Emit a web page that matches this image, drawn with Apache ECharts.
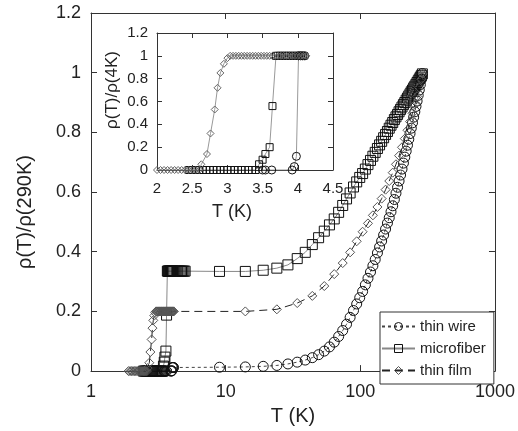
<!DOCTYPE html>
<html>
<head>
<meta charset="utf-8">
<script src="https://cdn.jsdelivr.net/npm/echarts@6/dist/echarts.min.js"></script>
<style>
  html, body { margin: 0; padding: 0; background: #fff; }
  #chart { width: 518px; height: 431px; }
</style>
</head>
<body>
<div id="chart"></div>
<script>
// low-T transition, normalised to rho(4K) (inset)
const wireInset = [
  [3.5, 0], [3.54, 0], [3.63, 0], [3.92, 0], [3.95, 0.03], [3.98, 0.12],
  [4.01, 1], [4.04, 1], [4.07, 1], [4.1, 1]
]
const fiberInset = [
  [2.45, 0], [2.5, 0], [2.55, 0], [2.6, 0], [2.65, 0], [2.7, 0], [2.75, 0], [2.8, 0],
  [2.85, 0], [2.9, 0], [2.95, 0], [3.0, 0], [3.05, 0], [3.1, 0], [3.15, 0], [3.2, 0],
  [3.25, 0], [3.3, 0], [3.35, 0], [3.4, 0],
  [3.45, 0.05], [3.5, 0.09], [3.54, 0.14], [3.6, 0.2], [3.64, 0.56],
  [3.69, 1], [3.72, 1], [3.75, 1], [3.78, 1], [3.81, 1], [3.84, 1], [3.87, 1],
  [3.9, 1], [3.93, 1], [3.96, 1], [3.99, 1], [4.02, 1], [4.05, 1], [4.08, 1]
]
const filmInset = [
  [1.9, 0], [1.95, 0], [2.0, 0], [2.05, 0], [2.1, 0], [2.15, 0], [2.2, 0], [2.25, 0],
  [2.3, 0], [2.35, 0], [2.4, 0], [2.45, 0], [2.5, 0], [2.55, 0], [2.6, 0],
  [2.63, 0.05], [2.71, 0.14], [2.76, 0.32], [2.82, 0.53], [2.86, 0.72], [2.9, 0.85],
  [2.95, 0.93], [3.0, 0.98],
  [3.04, 1], [3.08, 1], [3.12, 1], [3.16, 1], [3.2, 1], [3.24, 1], [3.28, 1], [3.32, 1],
  [3.36, 1], [3.4, 1], [3.44, 1], [3.48, 1], [3.52, 1], [3.56, 1], [3.6, 1], [3.64, 1],
  [3.68, 1], [3.72, 1], [3.76, 1], [3.8, 1], [3.84, 1], [3.88, 1], [3.92, 1], [3.96, 1],
  [4.0, 1], [4.04, 1], [4.08, 1], [4.12, 1]
]

// rho(4K)/rho(290K) of each sample
const wireResidual = 0.012
const fiberResidual = 0.335
const filmResidual = 0.2

// main plot, normalised to rho(290K)
const fiberExtra = [
  [4.2, 0.335], [4.3, 0.335], [4.4, 0.335], [4.5, 0.335], [4.6, 0.335],
  [4.7, 0.335], [4.8, 0.335], [4.9, 0.335], [5.0, 0.335]
]
const wireHigh = [
  [9, 0.013], [14, 0.014], [19, 0.016], [24, 0.019], [29, 0.024], [34, 0.030],
  [39, 0.037], [44, 0.045], [49, 0.055], [54, 0.067], [59, 0.081], [64, 0.097],
  [69, 0.116], [74, 0.136], [79, 0.157], [84, 0.180], [89, 0.203], [94, 0.225],
  [99, 0.246], [104, 0.267], [109, 0.289], [114, 0.311], [119, 0.332], [124, 0.353],
  [129, 0.374], [134, 0.396], [139, 0.416], [144, 0.436], [149, 0.456], [154, 0.476],
  [159, 0.496], [164, 0.514], [169, 0.534], [174, 0.554], [179, 0.575], [184, 0.596],
  [189, 0.616], [194, 0.637], [199, 0.657], [204, 0.677], [209, 0.697], [214, 0.717],
  [219, 0.737], [224, 0.757], [229, 0.777], [234, 0.796], [239, 0.814], [244, 0.832],
  [249, 0.851], [254, 0.869], [259, 0.887], [264, 0.905], [269, 0.924], [274, 0.942],
  [279, 0.960], [284, 0.978], [289, 0.997]
]
const fiberHigh = [
  [9, 0.334], [14, 0.334], [19, 0.338], [24, 0.345], [29, 0.356], [34, 0.377],
  [39, 0.398], [44, 0.424], [49, 0.447], [54, 0.469], [59, 0.490], [64, 0.510],
  [69, 0.532], [74, 0.555], [79, 0.577], [84, 0.597], [89, 0.617], [94, 0.634],
  [99, 0.649], [104, 0.662], [109, 0.677], [114, 0.692], [119, 0.706], [124, 0.720],
  [129, 0.733], [134, 0.746], [139, 0.758], [144, 0.770], [149, 0.782], [154, 0.793],
  [159, 0.803], [164, 0.814], [169, 0.824], [174, 0.833], [179, 0.843], [184, 0.852],
  [189, 0.860], [194, 0.869], [199, 0.877], [204, 0.885], [209, 0.893], [214, 0.900],
  [219, 0.908], [224, 0.915], [229, 0.922], [234, 0.929], [239, 0.936], [244, 0.942],
  [249, 0.949], [254, 0.955], [259, 0.961], [264, 0.967], [269, 0.973], [274, 0.979],
  [279, 0.985], [284, 0.990], [289, 0.996]
]
const filmHigh = [
  [14, 0.200], [24, 0.207], [34, 0.228], [44, 0.252], [54, 0.285], [64, 0.325],
  [74, 0.362], [84, 0.398], [94, 0.435], [104, 0.467], [114, 0.495], [124, 0.522],
  [134, 0.550], [144, 0.578], [154, 0.608], [164, 0.637], [174, 0.665], [184, 0.693],
  [194, 0.722], [204, 0.750], [214, 0.779], [224, 0.807], [234, 0.836], [244, 0.864],
  [254, 0.893], [264, 0.921], [274, 0.950], [284, 0.978], [290, 0.996]
]

const names = ['thin wire', 'microfiber', 'thin film']
const mainXTicks = [1, 1000]
const mainYTicks = [0, 1.2, 0.2]
const insetXTicks = [2, 4.5, 0.5]
const insetYTicks = [0, 1.2, 0.2]

const FONT = 'Liberation Sans, Arial, sans-serif'
const AXIS = '#333'
const TEXT = '#222'

const scale = (pts, r) => pts.map(([t, v]) => [t, +(v * r).toFixed(4)])

const wireMain = scale(wireInset, wireResidual).concat(wireHigh)
const fiberMain = scale(fiberInset, fiberResidual).concat(fiberExtra, fiberHigh)
const filmMain = scale(filmInset, filmResidual).concat(filmHigh)

function axisBase(grid, fontSize, tickLen) {
  return {
    gridIndex: grid,
    axisLine: { show: true, onZero: false, lineStyle: { color: AXIS, width: 1 } },
    axisTick: { show: true, inside: true, length: tickLen, lineStyle: { color: AXIS } },
    axisLabel: { fontSize, color: TEXT, fontFamily: FONT },
    splitLine: { show: false },
    minorTick: { show: false }
  }
}

function mirror(axis, position) {
  return Object.assign({}, axis, {
    position,
    name: '',
    axisLabel: { show: false }
  })
}

const mainX = Object.assign(axisBase(0, 18, 6), {
  type: 'log', logBase: 10, min: mainXTicks[0], max: mainXTicks[1], position: 'bottom',
  name: 'T (K)', nameLocation: 'middle', nameGap: 21,
  nameTextStyle: { fontSize: 20, color: TEXT, fontFamily: FONT }
})
mainX.axisLabel.margin = 12
mainX.axisLabel.formatter = v => String(Math.round(v))

const mainY = Object.assign(axisBase(0, 18, 6), {
  type: 'value', min: mainYTicks[0], max: mainYTicks[1], interval: mainYTicks[2], position: 'left',
  name: 'ρ(T)/ρ(290K)', nameLocation: 'middle', nameGap: 56, nameRotate: 90,
  nameTextStyle: { fontSize: 20, color: TEXT, fontFamily: FONT, padding: [0, 40, 0, 0] }
})
mainY.axisLabel.margin = 10

const insetX = Object.assign(axisBase(1, 15, 5), {
  type: 'value', min: insetXTicks[0], max: insetXTicks[1], interval: insetXTicks[2], position: 'bottom',
  name: 'T (K)', nameLocation: 'middle', nameGap: 33,
  nameTextStyle: { fontSize: 18, color: TEXT, fontFamily: FONT, padding: [0, 26, 0, 0] }
})
insetX.axisLabel.margin = 11

const insetY = Object.assign(axisBase(1, 15, 5), {
  type: 'value', min: insetYTicks[0], max: insetYTicks[1], interval: insetYTicks[2], position: 'left',
  name: 'ρ(T)/ρ(4K)', nameLocation: 'middle', nameGap: 36, nameRotate: 90,
  nameTextStyle: { fontSize: 17, color: TEXT, fontFamily: FONT, padding: [0, 0, 0, 23] }
})
insetY.axisLabel.margin = 9
insetY.axisLabel.padding = [0, 0, 8, 0]

function hollow(color) {
  return { color: 'transparent', borderColor: color, borderWidth: 1 }
}

const chart = echarts.init(document.getElementById('chart'), null, { renderer: 'canvas' })

chart.setOption({
  animation: false,
  backgroundColor: '#fff',
  grid: [
    { left: 91, top: 13, right: 22, bottom: 47 },
    { left: 157, top: 33, width: 176, height: 137, show: true, backgroundColor: '#fff', borderWidth: 0 }
  ],
  legend: {
    data: names,
    orient: 'vertical',
    left: 380,
    top: 312,
    itemWidth: 33,
    itemHeight: 10,
    itemGap: 7,
    padding: [7, 8, 6, 1],
    borderColor: AXIS,
    borderWidth: 1,
    backgroundColor: '#fff',
    itemStyle: { color: 'transparent', borderWidth: 1 },
    textStyle: { fontSize: 15, color: TEXT, fontFamily: FONT }
  },
  xAxis: [mainX, mirror(mainX, 'top'), insetX, mirror(insetX, 'top')],
  yAxis: [mainY, mirror(mainY, 'right'), insetY, mirror(insetY, 'right')],
  series: [
    {
      name: names[0], type: 'line', xAxisIndex: 0, yAxisIndex: 0, data: wireMain,
      symbol: 'circle', symbolSize: 10, itemStyle: hollow('#111'),
      lineStyle: { color: '#444', width: 1, type: [3, 3] }
    },
    {
      name: names[1], type: 'line', xAxisIndex: 0, yAxisIndex: 0, data: fiberMain,
      symbol: 'rect', symbolSize: 10, itemStyle: hollow('#111'),
      lineStyle: { color: '#888', width: 1 }
    },
    {
      name: names[2], type: 'line', xAxisIndex: 0, yAxisIndex: 0, data: filmMain,
      symbol: 'diamond', symbolSize: [9, 9], itemStyle: hollow('#555'),
      lineStyle: { color: '#222', width: 1, type: [8, 5] }
    },
    {
      name: names[0], type: 'line', xAxisIndex: 2, yAxisIndex: 2, data: wireInset,
      symbol: 'circle', symbolSize: 8, itemStyle: hollow('#111'),
      lineStyle: { color: '#999', width: 1 }, z: 5
    },
    {
      name: names[1], type: 'line', xAxisIndex: 2, yAxisIndex: 2, data: fiberInset,
      symbol: 'rect', symbolSize: 7, itemStyle: hollow('#111'),
      lineStyle: { color: '#999', width: 1 }, z: 5
    },
    {
      name: names[2], type: 'line', xAxisIndex: 2, yAxisIndex: 2, data: filmInset,
      symbol: 'diamond', symbolSize: [7, 7], itemStyle: hollow('#666'),
      lineStyle: { color: '#999', width: 1 }, z: 5
    }
  ]
})
</script>
</body>
</html>
